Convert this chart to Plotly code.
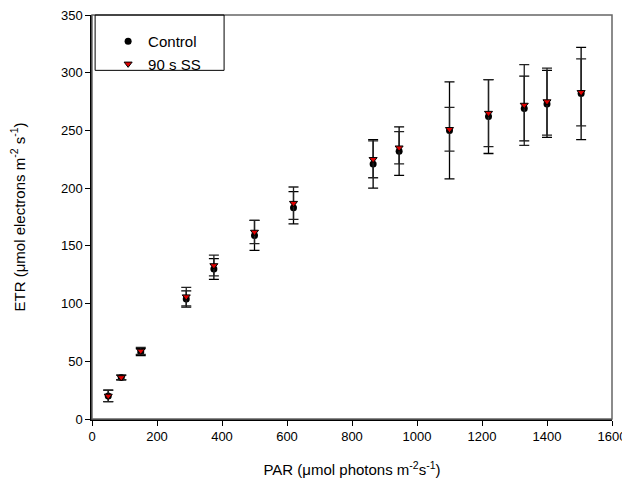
import plotly.graph_objects as go

par = [50, 90, 150, 290, 375, 500, 620, 865, 945, 1100, 1220, 1330, 1400, 1505]
control = [20, 36, 58, 104, 130, 159, 183, 221, 232, 250, 262, 269, 273, 282]
control_err = [5, 2, 3, 7, 9, 13, 14, 21, 21, 42, 32, 28, 29, 40]
ss = [20, 36, 59, 106, 133, 162, 187, 225, 235, 251, 265, 272, 275, 283]
ss_err = [5, 2, 3, 8, 9, 10, 14, 16, 14, 19, 29, 35, 29, 29]

x_ticks = [0, 200, 400, 600, 800, 1000, 1200, 1400, 1600]
y_ticks = [0, 50, 100, 150, 200, 250, 300, 350]

fig = go.Figure()
fig.add_trace(go.Scatter(
    x=par, y=control, mode="markers", name="Control",
    marker=dict(symbol="circle", size=7, color="black", line=dict(width=0)),
    error_y=dict(type="data", array=control_err, visible=True, color="black", thickness=1.3, width=5),
))
fig.add_trace(go.Scatter(
    x=par, y=ss, mode="markers", name="90 s SS",
    marker=dict(symbol="triangle-down", size=7, color="#e00000", line=dict(width=1, color="black")),
    error_y=dict(type="data", array=ss_err, visible=True, color="#222", thickness=1.3, width=5),
))

font = "Liberation Sans, Arial, sans-serif"
fig.update_layout(
    width=622, height=470,
    margin=dict(l=84, r=18, t=7, b=59),
    paper_bgcolor="white", plot_bgcolor="white",
    font=dict(family=font, size=13, color="black"),
    showlegend=True,
    legend=dict(x=0.031, y=0.975, xanchor="left", yanchor="top",
                borderwidth=0, bgcolor="rgba(0,0,0,0)",
                font=dict(size=15), tracegroupgap=0, itemwidth=30),
    shapes=[
        dict(type="rect", xref="paper", yref="paper", x0=0, y0=0, x1=1, y1=1,
             line=dict(color="#666", width=1.5), layer="above"),
        dict(type="rect", xref="paper", yref="paper", x0=0.006, y0=0.863, x1=0.254, y1=1,
             line=dict(color="black", width=1), fillcolor="rgba(0,0,0,0)", layer="above"),
    ],
)
fig.update_xaxes(
    range=[0, 1600], tickvals=x_ticks, ticktext=[str(v) for v in x_ticks],
    showgrid=False, zeroline=False, showline=True, linecolor="black", linewidth=1.5,
    ticks="outside", ticklen=5, tickcolor="black", automargin=False,
    ticklabeloverflow="allow", tickfont=dict(size=13),
    title=dict(text="PAR (\u03bcmol photons m<sup>-2</sup>s<sup>-1</sup>)", font=dict(size=15), standoff=22),
)
fig.update_yaxes(
    range=[0, 350], tickvals=y_ticks, ticktext=[str(v) for v in y_ticks],
    showgrid=False, zeroline=False, showline=True, linecolor="black", linewidth=1.5,
    ticks="outside", ticklen=5, tickcolor="black", automargin=False,
    ticklabeloverflow="allow", tickfont=dict(size=13),
    title=dict(text="ETR (\u03bcmol electrons m<sup>-2</sup> s<sup>-1</sup>)", font=dict(size=15), standoff=32),
)

fig.write_html("out.html")
